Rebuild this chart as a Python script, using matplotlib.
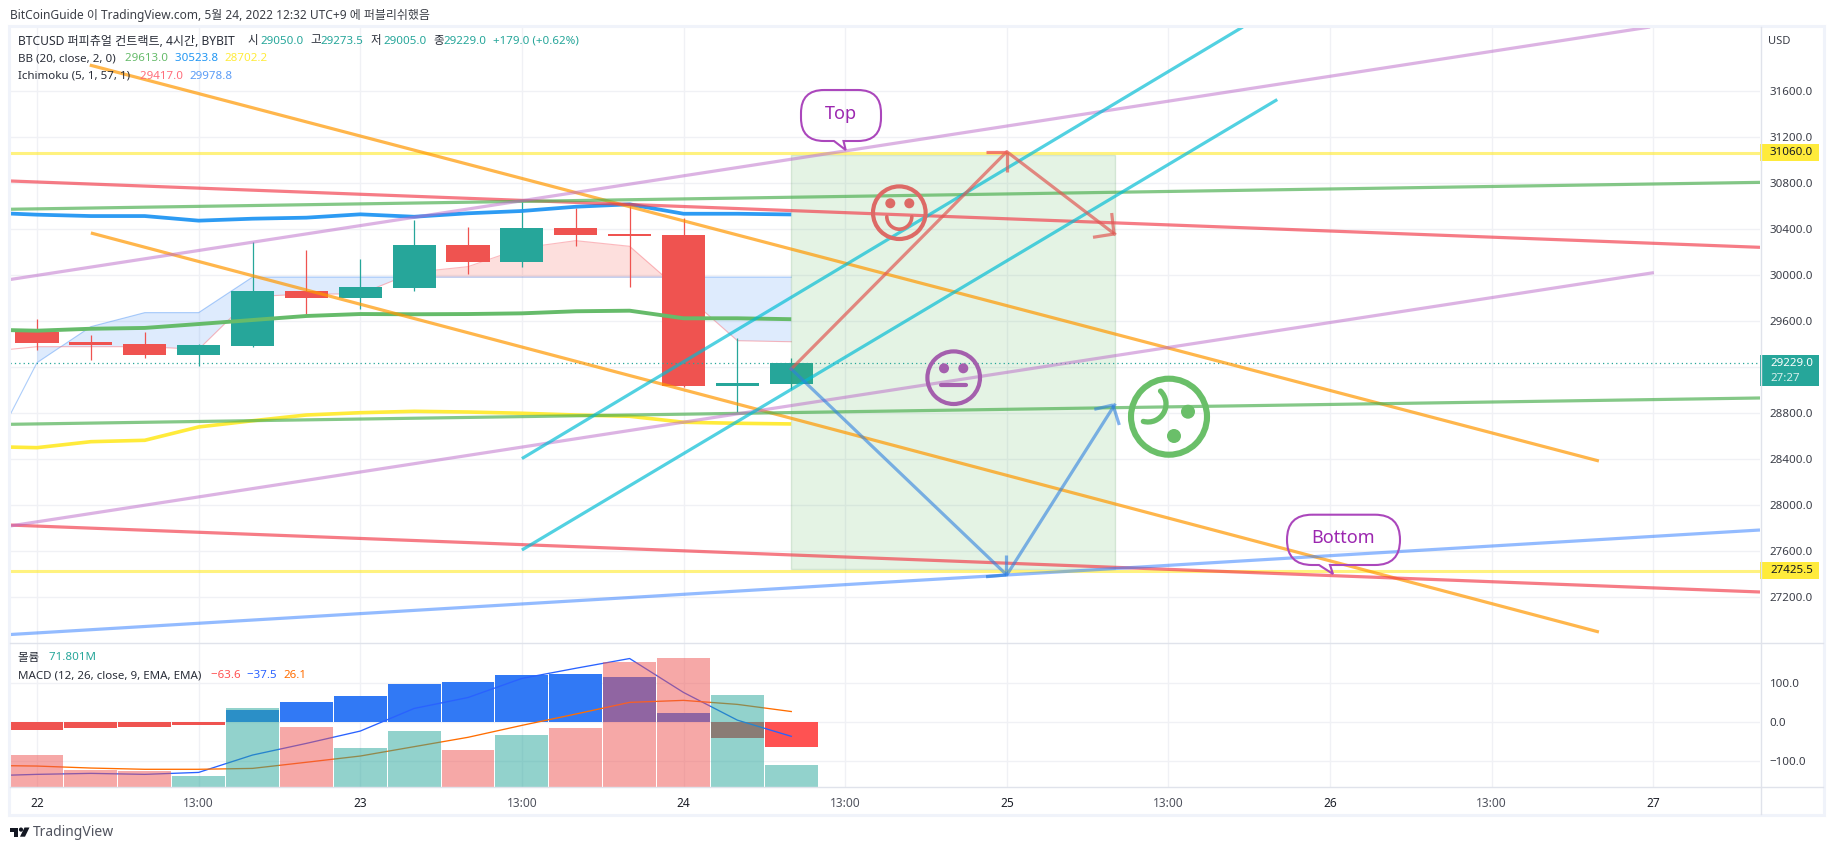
import matplotlib
matplotlib.use("Agg")
import matplotlib.pyplot as plt
from matplotlib.patches import Arc, Circle, PathPatch, Polygon, Rectangle
from matplotlib.path import Path

W, H = 1834, 850
plt.rcParams['font.family'] = ['Noto Sans', 'Noto Sans CJK KR', 'DejaVu Sans']

# 4h candles, bar 0 is the first bar of the 22nd
opens = [29502, 29415, 29397, 29302, 29380, 29858, 29797, 29884, 30258, 30110, 30406, 30354, 30345, 29032, 29050]
highs = [29615, 29476, 29502, 29397, 30284, 30215, 30137, 30476, 30415, 30632, 30580, 30597, 30493, 29450, 29273.5]
lows = [29345, 29258, 29276, 29206, 29371, 29658, 29702, 29858, 30006, 30067, 30250, 29893, 29023, 28806, 29005]
closes = [29406, 29389, 29302, 29389, 29858, 29797, 29893, 30258, 30110, 30406, 30345, 30337, 29032, 29058, 29229]

# indicators start one bar earlier (-1), off the left edge
ind_bars = [-1, 0, 1, 2, 3, 4, 5, 6, 7, 8, 9, 10, 11, 12, 13, 14]
bb_upper = [30541, 30522, 30510, 30510, 30470, 30487, 30496, 30525, 30504, 30534, 30554, 30591, 30612, 30530, 30530, 30523.8]
bb_basis = [29523, 29513, 29530, 29537, 29571, 29606, 29641, 29658, 29656, 29658, 29664, 29682, 29687, 29621, 29621, 29613]
bb_lower = [28506, 28496, 28548, 28560, 28676, 28730, 28780, 28800, 28812, 28806, 28795, 28780, 28769, 28717, 28708, 28702.2]
lead_blue = [28328, 29235, 29548, 29670, 29670, 29979, 29979, 29979, 29979, 29979, 29979, 29979, 29979, 29979, 29979, 29978.8]
lead_red = [29328, 29374, 29374, 29374, 29351, 29809, 29832, 29832, 30021, 30070, 30232, 30296, 30247, 29838, 29426, 29417]

# lower pane
volume = [104.4, 55.5, 52.2, 35.9, 257.8, 195.8, 127.3, 182.8, 120.8, 169.7, 192.6, 408, 421, 300.3, 71.8]
macd_hist = [-21.4, -17, -14.5, -8.5, 30.8, 50.4, 65.8, 96.6, 101.7, 119.7, 122, 114.5, 22, -41.9, -63.6]
macd_line = [-139, -135, -132.5, -135, -130, -85.5, -55.6, -24, 34, 62, 111, 137, 162, 75, 4, -37.5]
macd_signal = [-112, -113.7, -118.8, -122, -122, -119.7, -104, -88, -64, -40, -9.4, 19.7, 49.6, 54.7, 44.4, 26.1]

# drawn trend lines: (bar, bar), (price, price)
orange_top = ((0.98, 28.99), (31823, 28380))
orange_low = ((1.0, 28.99), (30363, 26893))
red_top = ((-0.5, 31.98), (30815, 30238))
red_low = ((-0.5, 31.98), (27823, 27241))
green_top = ((-0.5, 31.98), (30569, 30803))
green_low = ((-0.5, 31.98), (28699, 28928))
purple_top = ((-0.5, 29.94), (29958, 32154))
purple_low = ((-0.5, 30.01), (27815, 30018))
cyan_top = ((9.0, 22.38), (28401, 32154))
cyan_low = ((9.0, 23.02), (27606, 31523))
blue_low = ((-0.5, 31.98), (26871, 27780))
top_level = 31060.0
bottom_level = 27425.5

# projected path and target box
path_bars = [14, 18, 20]
path_up = [29180, 31070, 30354]
path_down = [29180, 27389, 28867]
box_bars = (14, 20)
box_prices = (27445, 31041)

price_ticks = [27200, 27600, 28000, 28400, 28800, 29200, 29600, 30000, 30400, 30800, 31200, 31600]
time_ticks = [0, 3, 6, 9, 12, 15, 18, 21, 24, 27, 30]
time_labels = ['22', '13:00', '23', '13:00', '24', '13:00', '25', '13:00', '26', '13:00', '27']
macd_ticks = [100, 0, -100]

UP = '#26a69a'
DOWN = '#ef5350'
GRID = '#f0f1f5'
EDGE = '#e0e3eb'
TEXT = '#3a3d47'


def rect(x0, y0, x1, y1):
    return [x0 / W, 1 - y1 / H, (x1 - x0) / W, (y1 - y0) / H]


fig = plt.figure(figsize=(W / 100, H / 100), dpi=100, facecolor='white')
ax = fig.add_axes(rect(10, 27, 1760, 643))
macd_ax = fig.add_axes(rect(10, 643, 1760, 787), sharex=ax)
vol_ax = fig.add_axes(rect(10, 643, 1760, 787), sharex=ax)
over = fig.add_axes([0, 0, 1, 1], facecolor='none')
over.set_xlim(0, W)
over.set_ylim(H, 0)
over.axis('off')

# price pane, the 29200 label sits under the last-price tag
ax.set_xlim(-0.501, 31.98)
ax.set_ylim(31600 - (643 - 90.7) / 0.115, 31600 + (90.7 - 27) / 0.115)
ax.set_yticks(price_ticks)
ax.set_yticklabels(['' if p == 29200 else f'{p:.1f}' for p in price_ticks], fontsize=8.3, color=TEXT)
ax.yaxis.tick_right()
ax.tick_params(axis='y', length=0, pad=7)
ax.tick_params(axis='x', length=0, labelbottom=False)
ax.set_xticks(time_ticks)
ax.grid(True, color=GRID, lw=1)
ax.set_axisbelow(True)
for s in ax.spines.values():
    s.set_visible(False)

# cloud
cloud_bars = ind_bars[1:]
blue_mask = [b >= r or x <= 1 for x, b, r in zip(cloud_bars, lead_blue[1:], lead_red[1:])]
red_mask = [b <= r and x > 1 for x, b, r in zip(cloud_bars, lead_blue[1:], lead_red[1:])]
ax.fill_between(cloud_bars, lead_blue[1:], lead_red[1:], where=blue_mask,
                interpolate=True, color='#5b9cf6', alpha=0.2, lw=0, zorder=1)
ax.fill_between(cloud_bars, lead_blue[1:], lead_red[1:], where=red_mask,
                interpolate=True, color='#f44336', alpha=0.17, lw=0, zorder=1)
ax.plot(ind_bars, lead_blue, color='#5b9cf6', lw=0.8, alpha=0.5, zorder=1.5)
ax.plot(ind_bars, lead_red, color='#f7525f', lw=0.8, alpha=0.4, zorder=1.5)

# candles
for i in range(len(opens)):
    c = UP if closes[i] >= opens[i] else DOWN
    ax.vlines(i, lows[i], highs[i], color=c, lw=0.9, zorder=2)
    ax.add_patch(Rectangle((i - 0.4, min(opens[i], closes[i])), 0.8, abs(closes[i] - opens[i]), color=c, lw=0, zorder=2.1))

ax.add_patch(Rectangle((box_bars[0], box_prices[0]), box_bars[1] - box_bars[0], box_prices[1] - box_prices[0],
                       facecolor='#4caf50', alpha=0.15, edgecolor='#2e7d32', lw=1, zorder=2.5))

# bollinger bands
ax.plot(ind_bars, bb_upper, color='#2196f3', lw=2.7, alpha=0.95, zorder=3, solid_capstyle='butt')
ax.plot(ind_bars, bb_basis, color='#66bb6a', lw=2.8, zorder=3, solid_capstyle='butt')
ax.plot(ind_bars, bb_lower, color='#ffeb3b', lw=2.6, zorder=3, solid_capstyle='butt')

# levels and trend lines
ax.axhline(closes[-1], color=UP, lw=0.9, ls=(0, (1, 2.5)), zorder=2.8)
ax.axhline(top_level, color='#ffeb3b', lw=2.2, alpha=0.65, zorder=3.2)
ax.axhline(bottom_level, color='#ffeb3b', lw=2.2, alpha=0.65, zorder=3.2)
for (bars, prices), col, a in [(orange_top, '#ff9800', 0.7), (orange_low, '#ff9800', 0.7),
                               (red_top, '#f23645', 0.65), (red_low, '#f23645', 0.65),
                               (green_top, '#4caf50', 0.68), (green_low, '#4caf50', 0.68),
                               (purple_top, '#ba68c8', 0.5), (purple_low, '#ba68c8', 0.5),
                               (cyan_top, '#00bcd4', 0.68), (cyan_low, '#00bcd4', 0.68),
                               (blue_low, '#2979ff', 0.5)]:
    ax.plot(bars, prices, color=col, alpha=a, lw=2.3, zorder=3.5, solid_capstyle='butt')

ax.plot(path_bars, path_up, color='#e05a55', alpha=0.7, lw=2.3, zorder=3.8)
ax.plot(path_bars, path_down, color='#2f80e0', alpha=0.6, lw=2.3, zorder=3.8)

# MACD pane
macd_ax.set_ylim(-167.4, 201.8)
macd_ax.set_yticks(macd_ticks)
macd_ax.set_yticklabels(['100.0', '0.0', '\u2212100.0'], fontsize=8.3, color=TEXT)
macd_ax.yaxis.tick_right()
macd_ax.tick_params(axis='y', length=0, pad=7)
macd_ax.tick_params(axis='x', length=0, pad=7, labelbottom=True)
macd_ax.set_xticks(time_ticks)
macd_ax.set_xticklabels(time_labels, fontsize=8.6)
for lab, txt in zip(macd_ax.get_xticklabels(), time_labels):
    lab.set_color('#50535e' if ':' in txt else '#1d2029')
macd_ax.grid(True, color=GRID, lw=1)
macd_ax.set_axisbelow(True)
for s in macd_ax.spines.values():
    s.set_visible(False)

bars_x = list(range(len(macd_hist)))
hist_colors = ['#3179f5' if v >= 0 else ('#ff5252' if i == len(macd_hist) - 1 else '#ef5350') for i, v in enumerate(macd_hist)]
macd_ax.bar(bars_x, macd_hist, width=0.98, color=hist_colors, lw=0)
macd_ax.plot(ind_bars, macd_line, color='#2962ff', lw=0.95)
macd_ax.plot(ind_bars, macd_signal, color='#ff6d00', lw=0.95)

# volume sits on top of the MACD, same bar slots
vol_ax.set_ylim(0, 470)
vol_ax.axis('off')
vol_colors = [UP if c >= o else DOWN for o, c in zip(opens, closes)]
vol_ax.bar(bars_x, volume, width=0.98, color=vol_colors, alpha=0.5, lw=0)

# frame
over.add_patch(Rectangle((8.5, 25.5), 1815, 789, fill=False, edgecolor='#f0f3fa', lw=2.2))
over.plot([10, 1823], [643, 643], color=EDGE, lw=1)
over.plot([10, 1823], [787, 787], color=EDGE, lw=1)
over.plot([1760.5, 1760.5], [27, 814], color=EDGE, lw=1)


# y pixel of a price on the main pane
def price_y(p):
    return H - ax.transData.transform((0, p))[1]


# arrow heads
for x0, y0, x1, y1, col, a in [(985.7, 151.7, 1006.8, 151.7, '#f0605a', 0.8), (1007, 172.3, 1007, 151.7, '#e05a55', 0.7),
                               (1111.7, 213, 1114, 234, '#e05a55', 0.7), (1093, 237.3, 1114, 234, '#e05a55', 0.7),
                               (986, 576.7, 1006, 575, '#2f80e0', 0.75), (1006, 555, 1006, 575, '#2f80e0', 0.6),
                               (1094.3, 409.3, 1113, 405, '#2f80e0', 0.6), (1119.3, 425, 1113, 405, '#2f80e0', 0.6)]:
    over.plot([x0, x1], [y0, y1], color=col, alpha=a, lw=2.3, solid_capstyle='butt')

# faces
HAPPY = '#dd6a66'
over.add_patch(Circle((899.3, 212.7), 26.3, fill=False, edgecolor=HAPPY, lw=3.0))
over.add_patch(Circle((890.3, 203.3), 5, color=HAPPY, lw=0))
over.add_patch(Circle((909.3, 203.3), 5, color=HAPPY, lw=0))
over.add_patch(Arc((899.3, 216.7), 25, 25, theta1=0, theta2=180, color=HAPPY, lw=2.6, capstyle='round'))

PLAIN = '#a45fad'
over.add_patch(Circle((953.7, 377.7), 26.3, fill=False, edgecolor=PLAIN, lw=3.0))
over.add_patch(Circle((944, 368.3), 5, color=PLAIN, lw=0))
over.add_patch(Circle((963.3, 368.3), 5, color=PLAIN, lw=0))
over.plot([941, 966], [385, 385], color=PLAIN, lw=3.0, solid_capstyle='round')

TILT = '#6abf69'
over.add_patch(Circle((1169, 416.7), 38, fill=False, edgecolor=TILT, lw=4.4))
over.add_patch(Circle((1188, 411.7), 7, color=TILT, lw=0))
over.add_patch(Circle((1174, 436), 7, color=TILT, lw=0))
over.add_patch(Arc((1148, 404), 36, 36, theta1=-46, theta2=105, color=TILT, lw=3.8, capstyle='round'))


# speech bubble outline with a tail on the bottom edge
def bubble(x0, y0, x1, y1, r, tail):
    pts = [(x0 + r, y0), (x1 - r, y0), (x1, y0), (x1, y0 + r), (x1, y1 - r), (x1, y1), (x1 - r, y1)]
    codes = [Path.MOVETO, Path.LINETO, Path.CURVE3, Path.CURVE3, Path.LINETO, Path.CURVE3, Path.CURVE3]
    pts += [tail[2], tail[1], tail[0]]
    codes += [Path.LINETO, Path.LINETO, Path.LINETO]
    pts += [(x0 + r, y1), (x0, y1), (x0, y1 - r), (x0, y0 + r), (x0, y0), (x0 + r, y0)]
    codes += [Path.LINETO, Path.CURVE3, Path.CURVE3, Path.LINETO, Path.CURVE3, Path.CURVE3]
    over.add_patch(PathPatch(Path(pts, codes), fill=False, edgecolor='#ab47bc', lw=1.5))


bubble(801, 90, 881, 141, 23, [(834, 141), (845.7, 150), (843.5, 141)])
bubble(1287, 514.7, 1400, 565, 25, [(1319, 565), (1333, 574), (1330, 565)])
over.text(841, 114, 'Top', color='#9c27b0', fontsize=13, ha='center', va='center')
over.text(1343, 538, 'Bottom', color='#9c27b0', fontsize=13, ha='center', va='center')

# price tags on the scale
for p, bg, fg, txt in [(top_level, '#ffeb3b', '#131722', '31060.0'), (bottom_level, '#ffeb3b', '#131722', '27425.5')]:
    y = price_y(p)
    over.add_patch(Rectangle((1760, y - 8.5), 59, 17, color=bg, lw=0))
    over.text(1770, y, txt, color=fg, fontsize=8.3, va='center')
y = price_y(closes[-1])
over.add_patch(Rectangle((1760, y - 8), 59, 31, color=UP, lw=0))
over.text(1770, y, '29229.0', color='white', fontsize=8.3, fontweight='bold', va='center')
over.text(1770, y + 15, '27:27', color='#d5efeb', fontsize=8.3, va='center')
over.text(1768, 41, 'USD', color=TEXT, fontsize=8, va='center')


# one legend row made of differently coloured pieces
def legend_row(x, y, pieces, size=8.3):
    rend = fig.canvas.get_renderer()
    for s, col in pieces:
        t = over.text(x, y, s, color=col, fontsize=size, va='center')
        x += t.get_window_extent(rend).width + (size * 0.42 if s.endswith(' ') else 0)


DARK = '#2a2e39'
legend_row(10, 15, [('BitCoinGuide 이 TradingView.com, 5월 24, 2022 12:32 UTC+9 에 퍼블리쉬했음', '#3b3e46')], size=8.6)

# symbol row, each piece at its own x
for x, s, col in [(18, 'BTCUSD 퍼피츄얼 컨트랙트, 4시간, BYBIT', DARK), (248, '시', DARK), (260, '29050.0', UP),
                  (310, '고', DARK), (320, '29273.5', UP), (371, '저', DARK), (383, '29005.0', UP),
                  (433, '종', DARK), (443, '29229.0', UP), (493, '+179.0 (+0.62%)', UP)]:
    over.text(x, 41, s, color=col, fontsize=8.3 if x > 18 else 8.7, va='center')

legend_row(18, 58.7, [('BB (20, close, 2, 0) ', DARK), (' 29613.0 ', '#66bb6a'), ('30523.8 ', '#2196f3'), ('28702.2', '#ffeb3b')])
legend_row(18, 76, [('Ichimoku (5, 1, 57, 1) ', DARK), (' 29417.0 ', '#ff6d7a'), ('29978.8', '#5b9cf6')])
legend_row(18, 658, [('볼륨 ', DARK), (' 71.801M', UP)])
legend_row(18, 676, [('MACD (12, 26, close, 9, EMA, EMA) ', DARK), (' \u221263.6 ', '#ff5252'), ('\u221237.5 ', '#2962ff'), ('26.1', '#ff6d00')])

# footer logo
LOGO = '#131722'
over.add_patch(Polygon([(10, 827.5), (18, 827.5), (18, 836.7), (13.5, 836.7), (13.5, 831.5), (10, 831.5)], color=LOGO, lw=0))
over.add_patch(Circle((21, 829.6), 2.1, color=LOGO, lw=0))
over.add_patch(Polygon([(24.5, 827.5), (29.5, 827.5), (25, 836.7), (20, 836.7)], color=LOGO, lw=0))
over.text(33, 832.5, 'TradingView', color='#50535e', fontsize=10, va='center')

fig.savefig('out.png', dpi=100, facecolor='white')
